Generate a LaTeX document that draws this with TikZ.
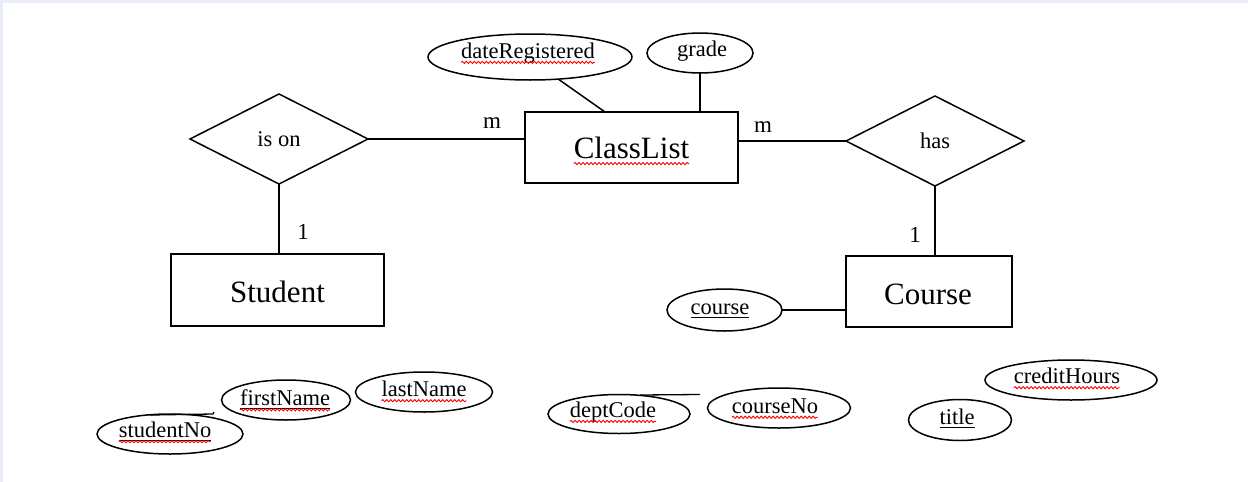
\documentclass[tikz,border=0pt]{standalone}
\usepackage{fontspec}
\setmainfont{Liberation Serif}
\usetikzlibrary{shapes.geometric,decorations.pathmorphing,calc}
\definecolor{bgband}{HTML}{E8EEF8}
\begin{document}
\begin{tikzpicture}[x=1pt,y=-1pt,
  line width=1.5pt,
  every node/.style={outer sep=0pt},
  entity/.style={draw, rectangle, inner sep=0pt},
  rel/.style={draw, diamond, minimum width=178pt, minimum height=90pt, inner sep=0pt, font=\fontsize{22.5}{26}\selectfont},
  attr/.style={draw, ellipse, inner sep=0pt},
  lbl/.style={inner sep=0pt, font=\fontsize{22.5}{26}\selectfont},
  biglbl/.style={inner sep=0pt, font=\fontsize{31}{36}\selectfont},
  card/.style={inner sep=0pt, font=\fontsize{23}{27}\selectfont},
  squig/.style={draw=red, line width=0.9pt, decorate, decoration={snake, amplitude=1.1pt, segment length=4pt}},
  uline/.style={line width=1.1pt}]
% background
\fill[bgband] (0,0) rectangle (1248,482);
\fill[white] (3,3) rectangle (1248,482);
\useasboundingbox (0,0) rectangle (1248,482);

% relationships
\node[rel] (ison) at (279,139) {is on};
\node[rel] (has) at (935,141) {has};

% entities
\node[entity, minimum width=213pt, minimum height=71pt] (cl) at (631.5,147.5) {};
\node[biglbl] (clt) at (631.5,148) {ClassList};
\node[entity, minimum width=213pt, minimum height=72pt] (student) at (277.5,290) {};
\node[biglbl] (studentt) at (277.5,292) {Student};
\node[entity, minimum width=166pt, minimum height=71pt] (course) at (929,291.5) {};
\node[biglbl] (courset) at (928,294) {Course};

% attributes
\node[attr, minimum width=204pt, minimum height=46pt] (dr) at (530,57) {};
\node[lbl] (drt) at (528,53) {dateRegistered};
\node[attr, minimum width=106pt, minimum height=40pt] (grade) at (700,53) {};
\node[lbl] (gradet) at (702,51) {grade};
\node[attr, minimum width=115pt, minimum height=42pt] (cattr) at (724.5,310) {};
\node[lbl] (cattrt) at (720,309) {course};

\node[attr, minimum width=146pt, minimum height=40pt] (sno) at (170,434) {};
\node[lbl] (snot) at (165,430) {studentNo};
\node[attr, minimum width=129pt, minimum height=40pt] (fn) at (286,400) {};
\node[lbl] (fnt) at (285,398) {firstName};
\node[attr, minimum width=137pt, minimum height=40pt] (ln) at (424,392) {};
\node[lbl] (lnt) at (424,389) {lastName};

\node[attr, minimum width=142pt, minimum height=39pt] (dc) at (619,414) {};
\node[lbl] (dct) at (613,412) {deptCode};
\node[attr, minimum width=143pt, minimum height=40pt] (cno) at (779,408) {};
\node[lbl] (cnot) at (775,406) {courseNo};
\node[attr, minimum width=103pt, minimum height=41pt] (title) at (960,420) {};
\node[lbl] (titlet) at (957,417) {title};
\node[attr, minimum width=172pt, minimum height=40pt] (ch) at (1071,380) {};
\node[lbl] (cht) at (1067,376) {creditHours};

% connectors
\draw (ison.east) -- (ison.east -| cl.west);
\draw (has.west -| cl.east) -- (has.west);
\draw (ison.south) -- (ison.south |- student.north);
\draw (has.south) -- (has.south |- course.north);
\draw (cattr.east) -- (cattr.east -| course.west);
\draw (dr.-38) -- ([xshift=80pt]cl.north west);
\draw (grade.south) -- (grade.south |- cl.north);

% stray strokes
\coordinate (s1) at (150,415);
\coordinate (s2) at (213,414);
\draw[line width=1.3pt] (s1) -- (s2) -- ++(1,-2);
\coordinate (d1) at (640,395);
\coordinate (d2) at (700,394.5);
\draw[line width=1.3pt] (d1) -- (d2);

% cardinalities
\node[card] (m1) at (492,123) {m};
\node[card] (m2) at (763,127) {m};
\node[card] (one1) at (303,232) {1};
\node[card] (one2) at (915,235) {1};

% underlines (keys)
\foreach \n in {snot,fnt,titlet,cattrt}{
  \draw[uline] ([yshift=-3pt]\n.base west) -- ([yshift=-3pt]\n.base east);
}
% spell-check squiggles
\foreach \n in {drt,snot,fnt,lnt,dct,cnot,cht}{
  \draw[squig] ([yshift=-4pt]\n.base west) -- ([yshift=-4pt]\n.base east);
}
\draw[squig] ([yshift=-5pt]clt.base west) -- ([yshift=-5pt]clt.base east);
\end{tikzpicture}
\end{document}
